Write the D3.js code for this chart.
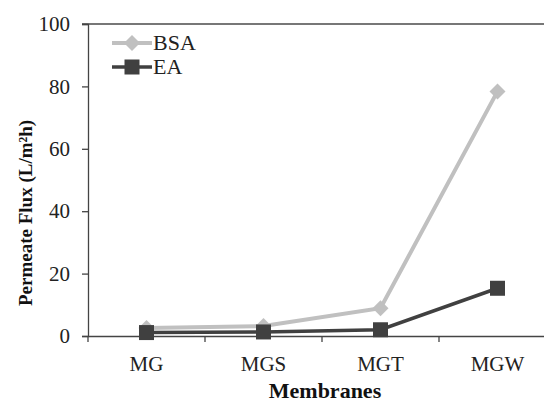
<!DOCTYPE html>
<html>
<head>
<meta charset="utf-8">
<script src="https://cdn.jsdelivr.net/npm/d3@7"></script>
<style>
  body { margin: 0; background: #fff; }
  text { font-family: "Liberation Serif", "Times New Roman", serif; }
</style>
</head>
<body>
<div id="chart"></div>
<script>
// Données
const membranes = ['MG', 'MGS', 'MGT', 'MGW'];
const bsaFlux = [2.6, 3.2, 8.9, 78.4];
const eaFlux = [1.1, 1.3, 2.0, 15.3];
const yTicks = [0, 20, 40, 60, 80, 100];

const width = 544, height = 403;
const plotLeft = 88, plotTop = 24, plotRight = 556, plotBottom = 336;

const svg = d3.select('#chart').append('svg')
    .attr('width', width)
    .attr('height', height);

const x = d3.scaleBand().domain(membranes).range([plotLeft, plotRight]);
const y = d3.scaleLinear().domain([0, 100]).range([plotBottom, plotTop]);

// Ligne de grille du haut
svg.append('line')
    .attr('x1', plotLeft - 6).attr('x2', plotRight)
    .attr('y1', y(100)).attr('y2', y(100))
    .attr('stroke', '#777').attr('stroke-width', 2);

// Axe Y
const yAxis = svg.append('g')
    .attr('transform', `translate(${plotLeft},0)`)
    .call(d3.axisLeft(y).tickValues(yTicks).tickSize(6).tickPadding(12));
yAxis.select('.domain').attr('stroke', '#444').attr('stroke-width', 1.3);
yAxis.selectAll('.tick line').attr('stroke', '#444').attr('stroke-width', 1.3);
yAxis.selectAll('.tick text')
    .attr('font-size', 21).attr('fill', '#222')
    .attr('font-family', '"Liberation Serif", serif');

// Axe X
const xAxis = svg.append('g')
    .attr('transform', `translate(0,${plotBottom})`)
    .call(d3.axisBottom(x).tickSize(0).tickPadding(20));
xAxis.select('.domain').attr('stroke', '#444').attr('stroke-width', 1.3);
xAxis.selectAll('.tick text')
    .attr('font-size', 21).attr('fill', '#222')
    .attr('font-family', '"Liberation Serif", serif');

// Graduations entre catégories
svg.append('g').selectAll('line')
    .data(membranes)
    .enter()
    .append('line')
    .attr('x1', d => x(d)).attr('x2', d => x(d))
    .attr('y1', plotBottom).attr('y2', plotBottom + 6)
    .attr('stroke', '#444').attr('stroke-width', 1.3);

const cx = d => x(d) + x.bandwidth() / 2;

const series = [
    { name: 'BSA', values: bsaFlux, color: '#c0c0c0', width: 4, marker: 'diamond' },
    { name: 'EA', values: eaFlux, color: '#404040', width: 3.5, marker: 'square' }
];

const line = d3.line().x((v, i) => cx(membranes[i])).y(v => y(v));

function drawMarker(g, type, color, px, py) {
    if (type === 'diamond') {
        g.append('path')
            .attr('d', `M${px},${py - 8}L${px + 8},${py}L${px},${py + 8}L${px - 8},${py}Z`)
            .attr('fill', color);
    } else {
        g.append('rect')
            .attr('x', px - 7.5).attr('y', py - 7.5)
            .attr('width', 15).attr('height', 15)
            .attr('fill', color);
    }
}

series.forEach(s => {
    const g = svg.append('g');
    g.append('path')
        .datum(s.values)
        .attr('d', line)
        .attr('fill', 'none')
        .attr('stroke', s.color)
        .attr('stroke-width', s.width);
    s.values.forEach((v, i) => drawMarker(g, s.marker, s.color, cx(membranes[i]), y(v)));
});

// Légende
const legend = svg.append('g');
series.forEach((s, i) => {
    const ly = 43 + i * 24;
    legend.append('line')
        .attr('x1', 112).attr('x2', 152)
        .attr('y1', ly).attr('y2', ly)
        .attr('stroke', s.color).attr('stroke-width', s.width);
    drawMarker(legend, s.marker, s.color, 132, ly);
    legend.append('text')
        .attr('x', 153).attr('y', ly + 7)
        .attr('font-size', 22).attr('fill', '#222')
        .text(s.name);
});

// Titres des axes
svg.append('text')
    .attr('x', 325).attr('y', 398)
    .attr('text-anchor', 'middle')
    .attr('font-size', 22).attr('font-weight', 'bold').attr('fill', '#111')
    .text('Membranes');

svg.append('text')
    .attr('transform', 'translate(32,213) rotate(-90)')
    .attr('text-anchor', 'middle')
    .attr('font-size', 19).attr('font-weight', 'bold').attr('fill', '#111')
    .text('Permeate Flux (L/m²h)');
</script>
</body>
</html>
